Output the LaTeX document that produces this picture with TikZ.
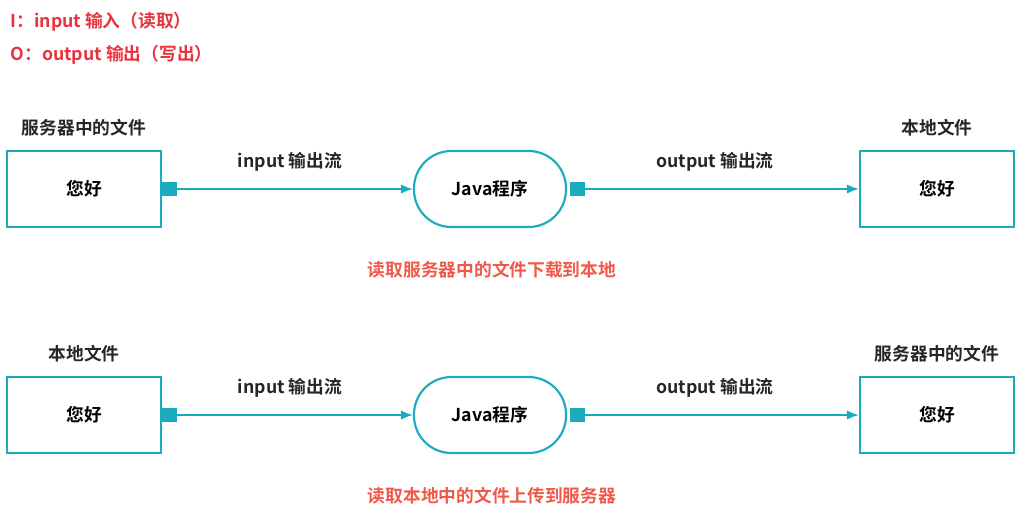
\documentclass[tikz,border=0pt]{standalone}
\usepackage{fontspec}
\usetikzlibrary{arrows.meta}
\setmainfont{Noto Sans CJK SC}[BoldFont={* Bold}]
\definecolor{teal1}{HTML}{1AACBC}
\definecolor{redA}{HTML}{E8323C}
\definecolor{redB}{HTML}{F0584A}
\begin{document}
\begin{tikzpicture}[x=0.75pt,y=-0.75pt,
  font=\fontsize{13.3}{15}\selectfont\bfseries,
  box/.style={draw=teal1,line width=1.6pt,minimum width=115.5pt,minimum height=57pt,inner sep=0pt},
  prog/.style={draw=teal1,line width=1.6pt,rounded corners=28pt,minimum width=114pt,minimum height=57pt,inner sep=0pt},
  sq/.style={fill=teal1,minimum size=11pt,inner sep=0pt},
  arr/.style={draw=teal1,line width=1.3pt,-{Latex[length=9pt,width=7pt]}},
  lab/.style={text=black!85}]
\useasboundingbox (0,0) rectangle (1024,526);
\node[anchor=west,text=redA] (t1) at (6,22) {I：input 输入（读取）};
\node[anchor=west,text=redA] (t2) at (6,55) {O：output 输出（写出）};
\foreach \r/\y/\la/\lb/\cp in {a/189/服务器中的文件/本地文件/读取服务器中的文件下载到本地, b/415/本地文件/服务器中的文件/读取本地中的文件上传到服务器}{
  \node[box] (L\r) at (84,\y) {您好};
  \node[prog] (J\r) at (490,\y) {Java程序};
  \node[box] (R\r) at (937,\y) {您好};
  \node[sq,anchor=west] (m1\r) at (L\r.east) {};
  \node[sq,anchor=west] (m2\r) at ([xshift=2pt]J\r.east) {};
  \draw[arr] (m1\r.east) -- (J\r.west);
  \draw[arr] (m2\r.east) -- (R\r.west);
  \node[lab] (ta\r) at (84,\y-61) {\la};
  \node[lab] (tb\r) at (937,\y-61) {\lb};
  \node[lab] (ea\r) at (290,\y-27) {input 输出流};
  \node[lab] (eb\r) at (715,\y-27) {output 输出流};
  \node[text=redB] (c\r) at (492,\y+81) {\cp};
}
\end{tikzpicture}
\end{document}
